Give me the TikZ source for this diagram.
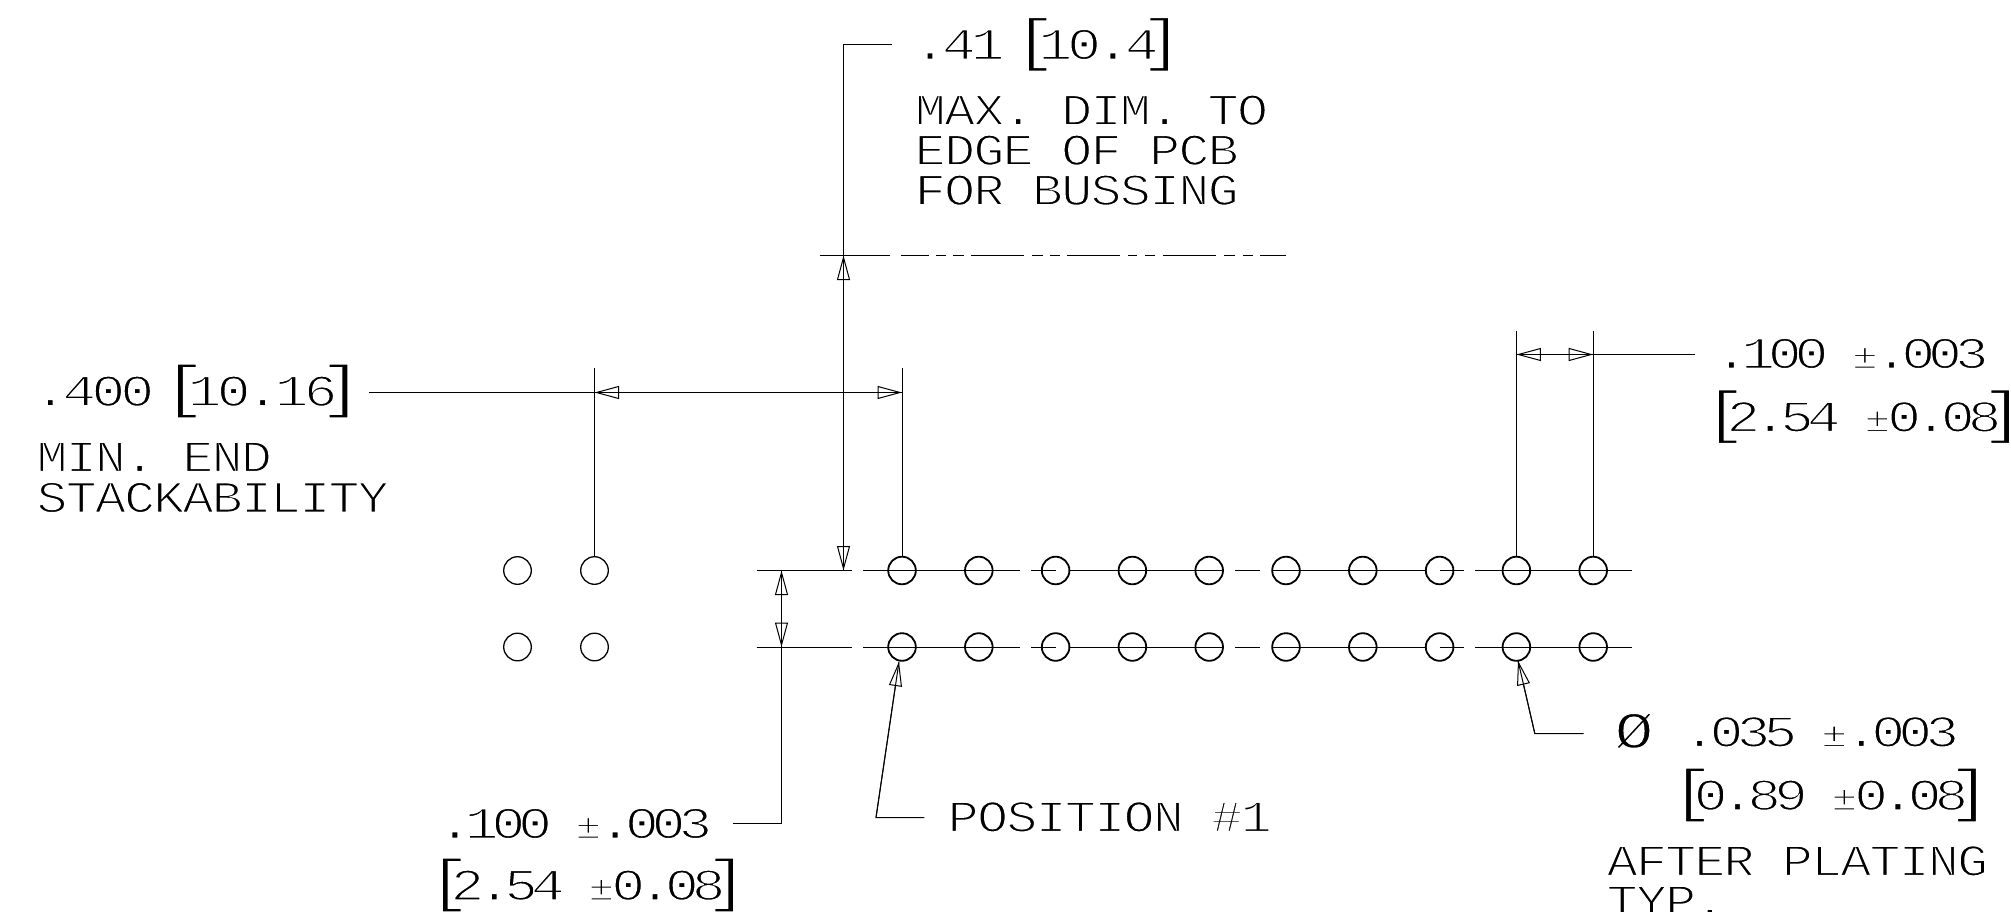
\documentclass[tikz,border=0pt]{standalone}
\usepackage{fontspec}
\usetikzlibrary{arrows.meta}
\newfontfamily\cadfont[FakeStretch=1.14]{Liberation Mono}
\newfontfamily\dimfont[FakeStretch=1.24]{Liberation Mono}
\newcommand{\thinon}{\special{pdf:code 2 Tr 1 1 1 RG 1.5 w}}
\newcommand{\thinoff}{\special{pdf:code 0 Tr 0 0 0 RG 1 w}}
\begingroup\catcode`\#=12 \gdef\hashchar{#}\endgroup
\ExplSyntaxOn
\str_new:N \l_cad_str
\NewDocumentCommand\cad{O{#2pt}mm}{
  \thinon
  \str_set:Nx \l_cad_str {#3}
  \str_map_inline:Nn \l_cad_str {
    \str_case:nnF {##1}{
      {~}{\kern #1\relax}
      {[}{\makebox[0.46\dimexpr#2pt\relax][l]{\fontsize{58}{58}\selectfont\kern-14pt[}}
      {]}{\makebox[0.46\dimexpr#2pt\relax][r]{\fontsize{58}{58}\selectfont]\kern-14pt}}
      {±}{\makebox[#2pt][c]{\fontsize{35}{35}\selectfont ±}}
    }{\makebox[#2pt][c]{##1}}
  }
  \thinoff
}
\ExplSyntaxOff
\tikzset{
  lbl/.style={inner sep=0pt,outer sep=0pt,anchor=base west,font=\cadfont\fontsize{45}{40}\selectfont,text=black},
  dimlbl/.style={lbl,font=\dimfont\fontsize{45}{40}\selectfont},
  dimline/.style={line width=1pt,black},
  head/.style={line width=1pt,black,-{Triangle[open,length=24.5pt,width=13pt,line width=1pt]}},
  pin/.style={circle,draw=black,minimum size=27.6pt,inner sep=0pt,line width=1.8pt},
  pinb/.style={circle,draw=black,minimum size=27.6pt,inner sep=0pt,line width=1.3pt},
}
\begin{document}
\begin{tikzpicture}[x=1pt,y=-1pt]
\useasboundingbox (0,0) rectangle (2011,912);
\clip (0,0) rectangle (2011,912);
% centre lines of the two rows
\foreach \ry in {570.5,647}
  \foreach \s/\e in {756.7/851.7,863/1019.5,1031/1055.6,1069.5/1222.7,1235/1260,1271.7/1425.6,1439.6/1463.7,1475/1631.8}
    \draw[dimline] (\s,\ry) -- (\e,\ry);
% pins
\foreach \i in {0,...,9} {
  \pgfmathsetmacro{\px}{902+76.8*\i}
  \node[pin] (t\i) at (\px,570.5) {};
  \node[pin] (u\i) at (\px,647) {};
}
\node[pinb] (la) at (517.5,570.5) {};
\node[pinb] (lb) at (594.5,570.5) {};
\node[pinb] (lc) at (517.5,647) {};
\node[pinb] (ld) at (594.5,647) {};
% centre line at top
\coordinate (ea) at (819.6,255.5);
\coordinate (eb) at (890,255.5);
\draw[dimline] (ea) -- (eb);
\foreach \s/\e in {901/929,936/946,953/964,971/1024,1032/1043,1050/1060,1067/1120,1128/1137,1145/1155,1163/1216,1224/1235,1243/1253,1260/1286}
  \draw[dimline] (\s,255.5) -- (\e,255.5);
% .41 dimension
\coordinate (ra) at (892,44.5);
\coordinate (rb) at (843.5,44.5);
\coordinate (rc) at (843.5,255.5);
\coordinate (rd) at (843.5,570.5);
\draw[dimline] (ra) -- (rb) -- (rd);
\draw[head] (843.5,300) -- (rc);
\draw[head] (843.5,500) -- (rd);
% .400 dimension
\coordinate (sa) at (369.4,392.5);
\coordinate (sb) at (lb |- sa);
\coordinate (sc) at (t0 |- sa);
\coordinate (sd) at (594.5,368.3);
\coordinate (se) at (902,368.3);
\draw[dimline] (sd) -- (lb.north);
\draw[dimline] (se) -- (t0.north);
\draw[dimline] (sa) -- (sc);
\draw[head] (650,392.5) -- (sb);
\draw[head] (830,392.5) -- (sc);
% .100 pitch dimension, right
\coordinate (pa) at (t8 |- 0,330.7);
\coordinate (pb) at (t9 |- 0,330.7);
\coordinate (pc) at (t8 |- 0,354.5);
\coordinate (pd) at (t9 |- 0,354.5);
\coordinate (pe) at (1695,354.5);
\draw[dimline] (pa) -- (t8.north);
\draw[dimline] (pb) -- (t9.north);
\draw[dimline] (pc) -- (pe);
\draw[head] (1560,354.5) -- (pc);
\draw[head] (1550,354.5) -- (pd);
% .100 row dimension, left
\coordinate (qa) at (781.5,570.5);
\coordinate (qb) at (781.5,647);
\coordinate (qc) at (781.5,823.5);
\coordinate (qd) at (732.7,823.5);
\draw[dimline] (qa) -- (qc) -- (qd);
\draw[head] (781.5,610) -- (qa);
\draw[head] (781.5,610) -- (qb);
% leaders
\coordinate (ma) at (899,661.7);
\coordinate (mb) at (876,817.5);
\coordinate (mc) at (924.3,817.5);
\draw[dimline] (ma) -- (mb) -- (mc);
\draw[head] (mb) -- (ma);
\coordinate (na) at (1518,660.7);
\coordinate (nb) at (1534.8,733.5);
\coordinate (nc) at (1583.5,733.5);
\draw[dimline] (na) -- (nb) -- (nc);
\draw[head] (nb) -- (na);
% labels
\node[dimlbl] (l1) at (915.6,59.3) {\cad[25.6pt]{28.8}{.41 [10.4]}};
\node[lbl] (l2) at (915.6,125) {\cad{29.3}{MAX. DIM. TO}};
\node[lbl] (l3) at (915.6,165) {\cad{29.3}{EDGE OF PCB}};
\node[lbl] (l4) at (915.6,205) {\cad{29.3}{FOR BUSSING}};
\node[dimlbl] (l5) at (35.8,406) {\cad[25pt]{29}{.400 [10.16]}};
\node[lbl] (l6) at (37.4,471.7) {\cad{29.2}{MIN. END}};
\node[lbl] (l7) at (37.4,512.3) {\cad{29.2}{STACKABILITY}};
\node[dimlbl] (l8) at (1718,368.3) {\cad{26.7}{.100 ±.003}};
\node[dimlbl] (l9) at (1717.6,431.7) {\cad{26.8}{[2.54 ±0.08]}};
\node[lbl] (l10) at (948.6,831.7) {\cad{29.3}{POSITION \hashchar 1}};
\node[dimlbl] (l11) at (441.6,838.3) {\cad{26.7}{.100 ±.003}};
\node[dimlbl] (l12) at (441.7,900) {\cad{26.8}{[2.54 ±0.08]}};
\node[lbl,font=\dimfont\fontsize{52}{50}\selectfont] (l13) at (1617,748) {\cad{34}{Ø}};
\node[dimlbl] (l14) at (1686,746.7) {\cad{26.96}{.035 ±.003}};
\node[dimlbl] (l15) at (1685,810) {\cad{26.74}{[0.89 ±0.08]}};
\node[lbl] (l16) at (1607.6,875.7) {\cad{29.2}{AFTER PLATING}};
\node[lbl] (l17) at (1607.6,915.7) {\cad{29.2}{TYP.}};
\end{tikzpicture}
\end{document}
